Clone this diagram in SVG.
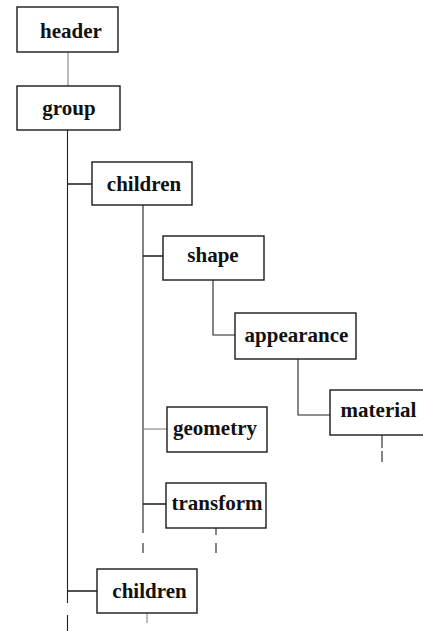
<svg xmlns="http://www.w3.org/2000/svg" width="423" height="631" viewBox="0 0 423 631">
  <style>
    .box rect { fill: #fff; stroke: #1a1a1a; stroke-width: 1.4; }
    .box text { font-family: "Liberation Serif", "Times New Roman", serif; font-weight: bold; font-size: 21px; fill: #111; text-anchor: middle; }
    .wire { fill: none; stroke: #222; stroke-width: 1.1; }
    .stub { fill: none; stroke: #1a1a1a; stroke-width: 1.6; }
    .faint { fill: none; stroke: #777; stroke-width: 1; }
  </style>
  <rect width="423" height="631" fill="#fff"/>

  <!-- connectors -->
  <g id="connectors">
    <path class="faint" d="M68 52V86"/>
    <path class="wire" d="M67.5 130V603M67.5 615V631"/>
    <path class="stub" d="M68 184H92M68 591H97"/>
    <path class="wire" d="M143 205V533M143 543V553"/>
    <path class="stub" d="M143 256H163M143 504H166"/>
    <path class="faint" d="M143 429H167"/>
    <path class="wire" d="M213 280V335H235"/>
    <path class="wire" d="M298 359V415H330"/>
    <path class="wire" d="M382 435V448M382 451V462"/>
    <path class="wire" d="M216 528V535M216 543V553"/>
    <path class="faint" d="M147 613V623"/>
  </g>

  <!-- nodes -->
  <g id="header" class="box">
    <rect x="17" y="7" width="101" height="45"/>
    <text x="71" y="38">header</text>
  </g>
  <g id="group" class="box">
    <rect x="17" y="86" width="103" height="44"/>
    <text x="69" y="115">group</text>
  </g>
  <g id="children-1" class="box">
    <rect x="92" y="162" width="100" height="43"/>
    <text x="144" y="190.5">children</text>
  </g>
  <g id="shape" class="box">
    <rect x="163" y="236" width="101" height="44"/>
    <text x="213" y="262">shape</text>
  </g>
  <g id="appearance" class="box">
    <rect x="235" y="313" width="121" height="46"/>
    <text x="296.5" y="342">appearance</text>
  </g>
  <g id="material" class="box">
    <rect x="330" y="390" width="110" height="45"/>
    <text x="378.5" y="417">material</text>
  </g>
  <g id="geometry" class="box">
    <rect x="167" y="407" width="100" height="45"/>
    <text x="215" y="435">geometry</text>
  </g>
  <g id="transform" class="box">
    <rect x="166" y="483" width="100" height="45"/>
    <text x="217" y="510">transform</text>
  </g>
  <g id="children-2" class="box">
    <rect x="97" y="569" width="100" height="44"/>
    <text x="149.5" y="598">children</text>
  </g>
</svg>
